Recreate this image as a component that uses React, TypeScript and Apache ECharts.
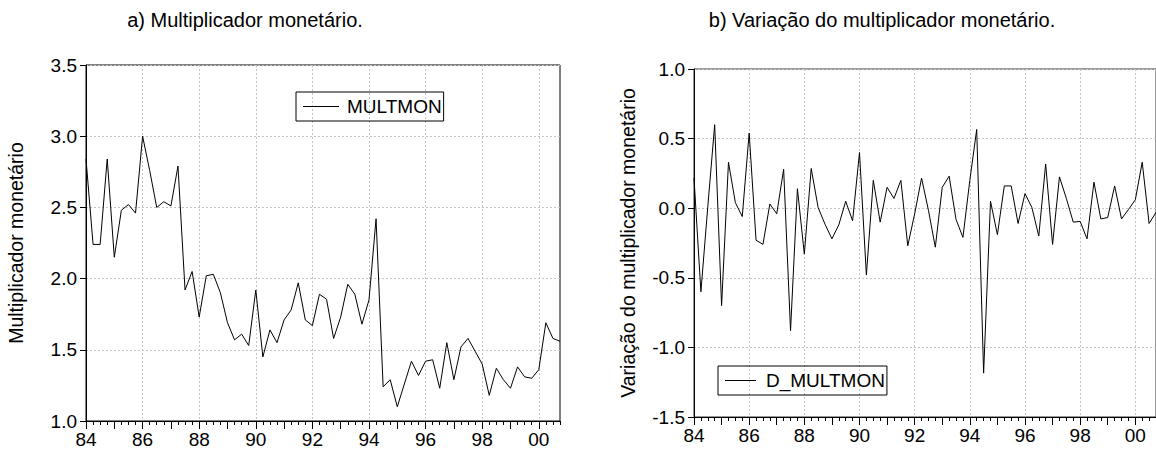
import React, { useEffect, useRef } from "react";
import * as echarts from "echarts";

// Quarterly observations, 1984Q1 .. 2000Q4
const firstYear = 1984;
const lastYear = 2000;
const quarters: string[] = [];
for (let y = firstYear; y <= lastYear; y++) {
  for (let q = 1; q <= 4; q++) quarters.push(`${y}Q${q}`);
}

const multmon = [
  2.84, 2.24, 2.24, 2.84, 2.15, 2.48, 2.52, 2.46,
  3.0, 2.76, 2.5, 2.54, 2.51, 2.79, 1.92, 2.05,
  1.73, 2.02, 2.03, 1.9, 1.69, 1.57, 1.61, 1.53,
  1.92, 1.45, 1.64, 1.55, 1.71, 1.78, 1.97, 1.71,
  1.67, 1.89, 1.855, 1.58, 1.73, 1.96, 1.89, 1.68,
  1.85, 2.42, 1.24, 1.29, 1.1, 1.26, 1.42, 1.32,
  1.42, 1.43, 1.23, 1.55, 1.29, 1.52, 1.58, 1.49,
  1.4, 1.18, 1.37, 1.29, 1.23, 1.38, 1.31, 1.3,
  1.36, 1.69, 1.58, 1.56,
];

const dMultmon = [
  0.216, -0.6, 0.01, 0.6, -0.7, 0.33, 0.04, -0.06,
  0.54, -0.23, -0.26, 0.03, -0.04, 0.28, -0.88, 0.14,
  -0.33, 0.285, 0.005, -0.115, -0.22, -0.12, 0.05, -0.09,
  0.4, -0.48, 0.2, -0.1, 0.15, 0.07, 0.2, -0.27,
  -0.04, 0.216, -0.015, -0.28, 0.15, 0.23, -0.08, -0.21,
  0.2, 0.566, -1.185, 0.05, -0.19, 0.16, 0.16, -0.11,
  0.105, 0.005, -0.2, 0.317, -0.26, 0.225, 0.07, -0.1,
  -0.095, -0.22, 0.187, -0.077, -0.067, 0.16, -0.077, -0.01,
  0.06, 0.33, -0.11, -0.03,
];

const titleA = "a) Multiplicador monetário.";
const titleB = "b) Variação do multiplicador monetário.";
const nameA = "Multiplicador monetário";
const nameB = "Variação do multiplicador monetário";
const seriesA = "MULTMON";
const seriesB = "D_MULTMON";

const FONT = "Liberation Sans, Arial, sans-serif";
const gridDash = { color: "#c4c4c4", type: [2, 2] as number[], width: 1 };

function xAxes(gridIndex: number) {
  return [
    {
      type: "category",
      gridIndex,
      data: quarters,
      boundaryGap: false,
      position: "bottom",
      axisLine: { show: true, onZero: false, lineStyle: { color: "#000", width: 1 } },
      axisTick: { show: true, interval: 0, length: 4, lineStyle: { color: "#000" } },
      axisLabel: {
        interval: (i: number) => i % 8 === 0,
        formatter: (v: string) => v.slice(2, 4),
        fontSize: 19,
        fontFamily: FONT,
        color: "#000",
        margin: 9,
      },
      splitLine: {
        show: true,
        interval: (i: number) => i % 8 === 0 && i > 0,
        lineStyle: gridDash,
      },
    },
    {
      type: "category",
      gridIndex,
      data: quarters,
      boundaryGap: false,
      position: "bottom",
      offset: 0,
      axisLine: { show: false, onZero: false },
      axisTick: {
        show: true,
        interval: (i: number) => i % 4 === 0,
        length: 8,
        lineStyle: { color: "#000" },
      },
      axisLabel: { show: false },
      splitLine: { show: false },
    },
  ];
}

function yAxis(gridIndex: number, min: number, max: number, name: string, nameGap: number) {
  return {
    type: "value",
    gridIndex,
    min,
    max,
    interval: 0.5,
    name,
    nameLocation: "middle",
    nameGap,
    nameTextStyle: { fontSize: 19.5, fontFamily: FONT, color: "#000" },
    axisLine: { show: true, lineStyle: { color: "#000", width: 1 } },
    axisTick: { show: true, length: 6, lineStyle: { color: "#000" } },
    axisLabel: {
      formatter: (v: number) => v.toFixed(1),
      fontSize: 19,
      fontFamily: FONT,
      color: "#000",
      margin: 9,
    },
    splitLine: { show: true, lineStyle: gridDash },
  };
}

function legendBox(name: string, left: number, top: number, lineLen: number, textGap: number) {
  return {
    data: [name],
    left,
    top,
    orient: "horizontal",
    icon: "rect",
    itemWidth: lineLen,
    itemHeight: 1,
    borderColor: "#000",
    borderWidth: 1,
    borderRadius: 0,
    padding: [5, 2, 5, 7],
    textStyle: { fontSize: 19, fontFamily: FONT, color: "#000", padding: [0, 0, 0, textGap] },
    selectedMode: false,
  };
}

export default function App() {
  const ref = useRef<HTMLDivElement>(null);

  useEffect(() => {
    if (!ref.current) return;
    const chart = echarts.init(ref.current, undefined, { renderer: "svg" });
    chart.setOption({
      animation: false,
      backgroundColor: "#fff",
      textStyle: { fontFamily: FONT },
      grid: [
        { left: 86, top: 65, width: 474, height: 356, show: true, borderColor: "#000", borderWidth: 1 },
        { left: 694, top: 69, width: 462, height: 348, show: true, borderColor: "#333", borderWidth: 1 },
      ],
      xAxis: [...xAxes(0), ...xAxes(1)],
      yAxis: [yAxis(0, 1, 3.5, nameA, 60), yAxis(1, -1.5, 1, nameB, 56)],
      legend: [legendBox(seriesA, 296, 92, 36, 3), legendBox(seriesB, 718, 366, 31, 5)],
      graphic: [
        {
          type: "text",
          x: 245,
          y: 20,
          style: {
            text: titleA,
            font: `20px ${FONT}`,
            fill: "#000",
            align: "center",
            verticalAlign: "middle",
          },
        },
        {
          type: "text",
          x: 882,
          y: 20,
          style: {
            text: titleB,
            font: `20px ${FONT}`,
            fill: "#000",
            align: "center",
            verticalAlign: "middle",
          },
        },
      ],
      series: [
        {
          name: seriesA,
          type: "line",
          xAxisIndex: 0,
          yAxisIndex: 0,
          data: multmon,
          symbol: "none",
          lineStyle: { color: "#000", width: 1 },
          itemStyle: { color: "#000" },
        },
        {
          name: seriesB,
          type: "line",
          xAxisIndex: 2,
          yAxisIndex: 1,
          data: dMultmon,
          symbol: "none",
          lineStyle: { color: "#000", width: 1 },
          itemStyle: { color: "#000" },
        },
      ],
    });
    return () => chart.dispose();
  }, []);

  return (
    <div
      ref={ref}
      style={{ position: "absolute", left: 0, top: 0, width: 1156, height: 449, background: "#fff" }}
    />
  );
}
